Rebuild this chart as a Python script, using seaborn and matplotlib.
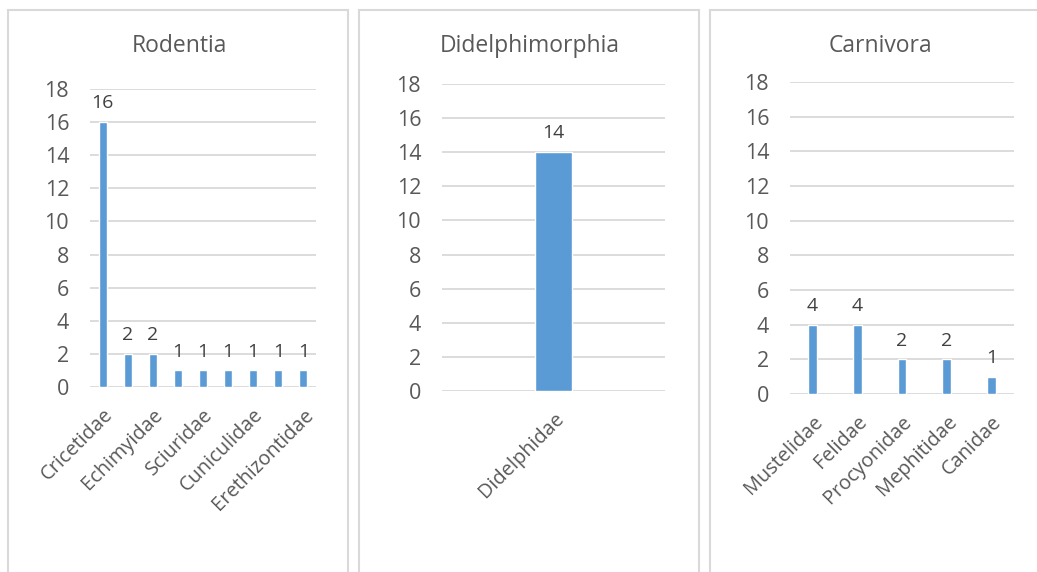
import matplotlib
matplotlib.use("Agg")
import matplotlib.pyplot as plt
import seaborn as sns
import pandas as pd
from matplotlib.patches import Rectangle

# ---- data ----
rod_families = ["Cricetidae", "Caviidae", "Echimyidae", "Dasyproctidae", "Sciuridae",
                "Ctenomyidae", "Cuniculidae", "Heteromyidae", "Erethizontidae"]
rod_counts = [16, 2, 2, 1, 1, 1, 1, 1, 1]
rod_shown = [True, False, True, False, True, False, True, False, True]

did_families = ["Didelphidae"]
did_counts = [14]

car_families = ["Mustelidae", "Felidae", "Procyonidae", "Mephitidae", "Canidae"]
car_counts = [4, 4, 2, 2, 1]

titles = ["Rodentia", "Didelphimorphia", "Carnivora"]
y_ticks = [0, 2, 4, 6, 8, 10, 12, 14, 16, 18]

sns.set_theme(style="white")
plt.rcParams["font.family"] = ["Open Sans", "DejaVu Sans"]

W, H = 1037, 572
fig = plt.figure(figsize=(W / 100, H / 100), dpi=100)
fig.patch.set_facecolor("white")

BAR = "#5b9bd5"
GRID = "#d9d9d9"
TXT = "#595959"
LBL = "#404040"

def px_axes(x0, x1, ytop, ybot):
    return fig.add_axes([x0 / W, (H - ybot) / H, (x1 - x0) / W, (ybot - ytop) / H])

panels = [
    dict(fam=rod_families, cnt=rod_counts, shown=rod_shown, box=(90, 316, 89, 387), width=0.32,
         frame=(8, 348), title_x=179.5),
    dict(fam=did_families, cnt=did_counts, shown=[True], box=(442, 665, 84, 391), width=0.17,
         frame=(359, 699), title_x=529.5),
    dict(fam=car_families, cnt=car_counts, shown=[True] * 5, box=(790, 1014, 82, 394), width=0.20,
         frame=(710, 1040), title_x=880.5),
]

for p, title in zip(panels, titles):
    # panel frame
    fx0, fx1 = p["frame"]
    fig.patches.append(Rectangle((fx0 / W, -0.1), (fx1 - fx0) / W, (H - 10) / H + 0.1,
                                 transform=fig.transFigure, fill=False,
                                 edgecolor=GRID, linewidth=1.5, zorder=0))
    ax = px_axes(*p["box"])
    df = pd.DataFrame({"family": p["fam"], "count": p["cnt"]})
    sns.barplot(data=df, x="family", y="count", color=BAR, width=p["width"],
                saturation=1, ax=ax, zorder=3)
    ax.set_ylim(0, 18)
    ax.set_xlim(-0.5, len(p["fam"]) - 0.5)
    ax.set_yticks(y_ticks)
    ax.yaxis.grid(True, color=GRID, linewidth=1.3, zorder=0)
    ax.set_axisbelow(True)
    for s in ax.spines.values():
        s.set_visible(False)
    ax.set_xlabel("")
    ax.set_ylabel("")
    ax.tick_params(axis="y", length=0, pad=15, labelsize=15.5, labelcolor=TXT)
    ax.tick_params(axis="x", length=0, pad=13, labelsize=14.3, labelcolor=TXT)
    ax.set_xticks(range(len(p["fam"])))
    ax.set_xticklabels([f if s else "" for f, s in zip(p["fam"], p["shown"])],
                       rotation=45, ha="right", rotation_mode="anchor", va="top")
    for c in ax.containers:
        ax.bar_label(c, labels=[str(v) for v in p["cnt"]], padding=7, fontsize=14, color=LBL)
    fig.text(p["title_x"] / W, (H - 46) / H, title, ha="center", va="center",
             fontsize=16.5, color=TXT)

fig.savefig("out.png", dpi=100, facecolor="white")
